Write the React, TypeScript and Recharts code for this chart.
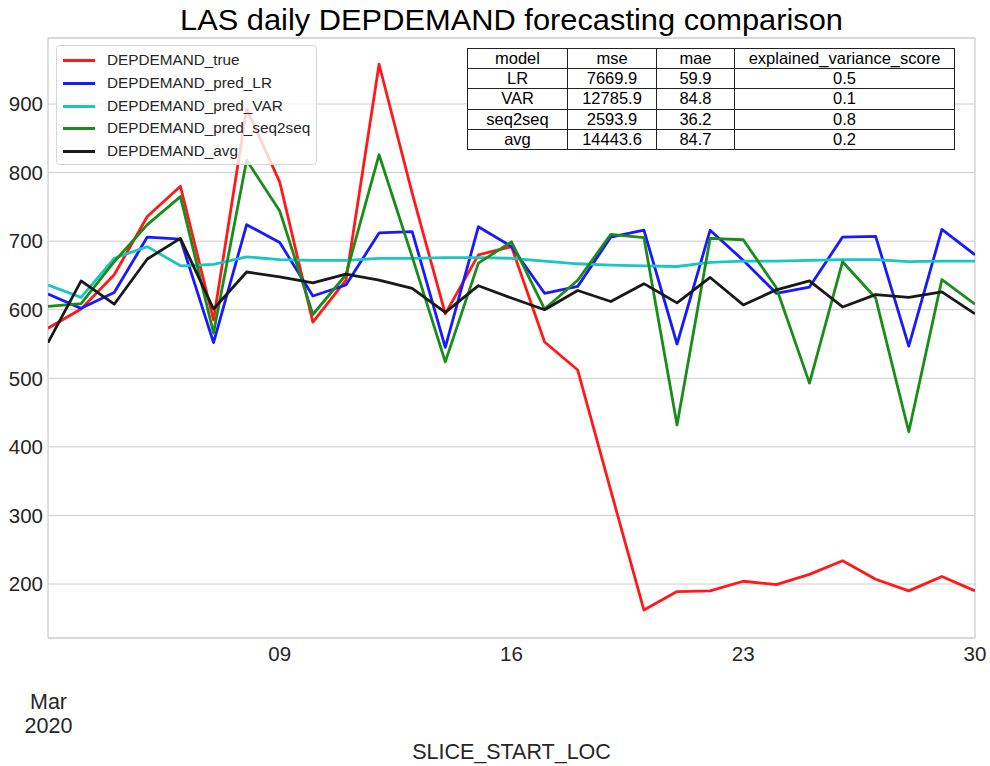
import React from 'react';
import { LineChart, Line, XAxis, YAxis, CartesianGrid, ReferenceArea } from 'recharts';

const days = [2, 3, 4, 5, 6, 7, 8, 9, 10, 11, 12, 13, 14, 15, 16, 17, 18, 19, 20, 21, 22, 23, 24, 25, 26, 27, 28, 29, 30];
const depTrue = [573, 601, 651, 736, 780, 585, 893, 786, 582, 643, 958, 770, 594, 680, 692, 553, 512, 336, 162, 189, 190, 204, 199, 214, 234, 207, 190, 211, 190];
const predLR = [623, 602, 625, 706, 703, 552, 724, 698, 620, 636, 712, 714, 545, 721, 692, 624, 634, 706, 716, 550, 716, 672, 624, 633, 706, 707, 547, 717, 680];
const predVAR = [636, 618, 675, 692, 664, 666, 677, 673, 672, 672, 675, 675, 676, 676, 675, 671, 667, 665, 664, 663, 669, 671, 671, 672, 673, 673, 670, 671, 671];
const predSeq = [605, 609, 670, 724, 765, 566, 818, 744, 593, 651, 826, 677, 524, 668, 699, 601, 643, 710, 705, 432, 704, 702, 632, 493, 670, 617, 422, 644, 608];
const depAvg = [552, 642, 608, 674, 704, 601, 655, 648, 639, 652, 643, 631, 596, 635, 617, 600, 628, 612, 638, 610, 647, 607, 629, 642, 604, 622, 618, 626, 594];

const xTicks = [9, 16, 23, 30];
const yTicks = [200, 300, 400, 500, 600, 700, 800, 900];

const seriesKeys = ['DEPDEMAND_true', 'DEPDEMAND_pred_LR', 'DEPDEMAND_pred_VAR', 'DEPDEMAND_pred_seq2seq', 'DEPDEMAND_avg'];
const seriesColors = ['rgb(255,25,25)', 'rgb(25,25,255)', 'rgb(25,197,197)', 'rgb(25,140,25)', 'rgb(25,25,25)'];

const tableHeader = ['model', 'mse', 'mae', 'explained_variance_score'];
const tableModels = ['LR', 'VAR', 'seq2seq', 'avg'];
const tableMse = ['7669.9', '12785.9', '2593.9', '14443.6'];
const tableMae = ['59.9', '84.8', '36.2', '84.7'];
const tableEvs = ['0.5', '0.1', '0.8', '0.2'];

const data = days.map((d, i) => ({
  day: d,
  DEPDEMAND_true: depTrue[i],
  DEPDEMAND_pred_LR: predLR[i],
  DEPDEMAND_pred_VAR: predVAR[i],
  DEPDEMAND_pred_seq2seq: predSeq[i],
  DEPDEMAND_avg: depAvg[i],
}));

const FONT = '"Liberation Sans", Arial, sans-serif';
const TXT = '#262626';

export default function App() {
  const colWidths = [100, 89, 78, 220];
  return (
    <div style={{ position: 'absolute', left: 0, top: 0, width: 990, height: 766, background: '#fff', fontFamily: FONT }}>
      <LineChart width={990} height={766} data={data} margin={{ top: 38, right: 15, left: 0, bottom: 0 }}>
        <CartesianGrid vertical={false} stroke="#cccccc" strokeWidth={1} />
        <XAxis
          dataKey="day"
          type="number"
          domain={[2, 30]}
          ticks={xTicks}
          tickFormatter={(d: number) => (d < 10 ? '0' + d : String(d))}
          height={128}
          tickLine={false}
          tickSize={0}
          tickMargin={8}
          axisLine={false}
          tick={{ fill: TXT, fontSize: 20.5, fontFamily: FONT }}
          allowDataOverflow
        />
        <YAxis
          type="number"
          domain={[121.25, 996.25]}
          ticks={yTicks}
          width={48}
          tickLine={false}
          tickSize={0}
          tickMargin={5}
          axisLine={false}
          tick={{ fill: TXT, fontSize: 20.5, fontFamily: FONT }}
          allowDataOverflow
        />
        <ReferenceArea x1={2} x2={30} y1={121.25} y2={996.25} fill="none" stroke="#cccccc" strokeWidth={1.2} ifOverflow="visible" />
        {seriesKeys.map((k, i) => (
          <Line
            key={k}
            type="linear"
            dataKey={k}
            stroke={seriesColors[i]}
            strokeWidth={2.8}
            strokeLinejoin="round"
            dot={false}
            activeDot={false}
            isAnimationActive={false}
          />
        ))}
      </LineChart>

      <svg width={990} height={766} style={{ position: 'absolute', left: 0, top: 0, pointerEvents: 'none' }}>
        <text x={511.5} y={30} textAnchor="middle" fontSize={29} fill="#000" fontFamily={FONT} textLength={663} lengthAdjust="spacingAndGlyphs">
          LAS daily DEPDEMAND forecasting comparison
        </text>
        <text x={48.5} y={709} textAnchor="middle" fontSize={21.5} fill={TXT} fontFamily={FONT}>Mar</text>
        <text x={48.5} y={732.5} textAnchor="middle" fontSize={21.5} fill={TXT} fontFamily={FONT}>2020</text>
        <text x={511.5} y={759} textAnchor="middle" fontSize={21.5} fill={TXT} fontFamily={FONT}>SLICE_START_LOC</text>
      </svg>

      <div
        style={{
          position: 'absolute',
          left: 56,
          top: 45,
          width: 261,
          height: 120,
          background: 'rgba(255,255,255,0.8)',
          border: '1px solid #d6d6d6',
          borderRadius: 4,
          boxSizing: 'border-box',
        }}
      >
        {seriesKeys.map((k, i) => (
          <div key={k} style={{ position: 'absolute', left: 0, top: 3 + i * 22.8, height: 22, width: 260 }}>
            <div style={{ position: 'absolute', left: 6, top: 10, width: 32, height: 3, background: seriesColors[i] }} />
            <span style={{ position: 'absolute', left: 50, top: 1, fontSize: 15.3, color: TXT, fontFamily: FONT, lineHeight: '20px', whiteSpace: 'nowrap' }}>{k}</span>
          </div>
        ))}
      </div>

      <table
        style={{
          position: 'absolute',
          left: 467,
          top: 48,
          borderCollapse: 'collapse',
          background: '#fff',
          fontFamily: FONT,
          fontSize: 16.5,
          color: '#000',
          tableLayout: 'fixed',
        }}
      >
        <tbody>
          <tr>
            {tableHeader.map((h, j) => (
              <td key={h} style={{ width: colWidths[j] - 1, height: 19.2, border: '1px solid #222', padding: 0, textAlign: 'center', lineHeight: '19px' }}>{h}</td>
            ))}
          </tr>
          {tableModels.map((m, i) => (
            <tr key={m}>
              {[m, tableMse[i], tableMae[i], tableEvs[i]].map((v, j) => (
                <td key={j} style={{ width: colWidths[j] - 1, height: 19.2, border: '1px solid #222', padding: 0, textAlign: 'center', lineHeight: '19px' }}>{v}</td>
              ))}
            </tr>
          ))}
        </tbody>
      </table>
    </div>
  );
}
